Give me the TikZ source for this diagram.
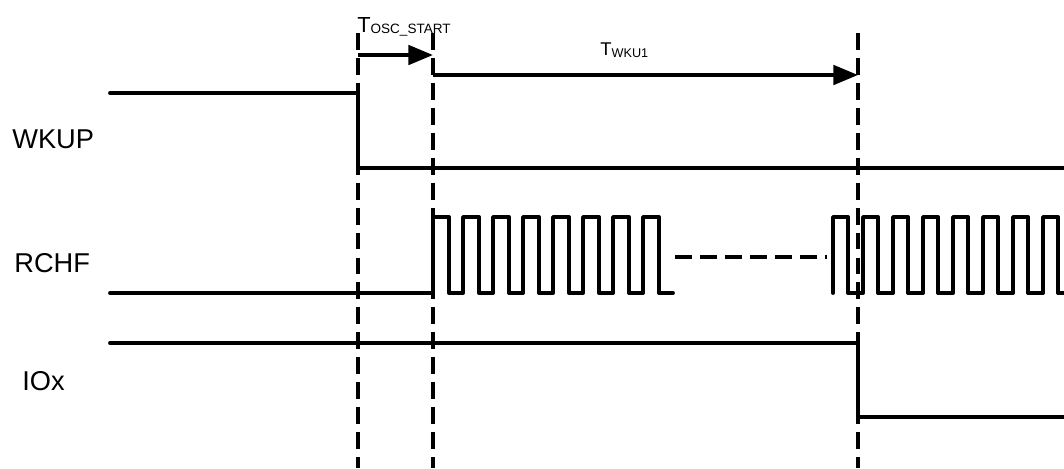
\documentclass[tikz,border=0pt]{standalone}
\usepackage{fontspec}
\setmainfont{Liberation Sans}
\usetikzlibrary{arrows.meta}

\begin{document}
\begin{tikzpicture}[
        x=0.02cm, y=-0.02cm, % 1 единица = 1 пиксель, ось y вниз
        signal/.style = {draw, line width=2.2pt, line join=round, line cap=round}, % Линии сигналов
        shtrih/.style = {draw, line width=2.2pt, dash pattern=on 9.6pt off 4.6pt},
        strelka/.style = {draw, line width=2.2pt, -{Triangle[length=14pt, width=11pt]}},
        metka/.style = {anchor=base west, inner sep=0pt, font=\fontsize{15.5}{18}\selectfont}, % Подписи
        vremya/.style = {anchor=base west, inner sep=0pt},
    ]
    \useasboundingbox (0,0) rectangle (1064,468);

    \node[metka] (wkup) at (12,148) {WKUP};
    \node[metka] (rchf) at (14,272) {RCHF};
    \node[metka] (iox) at (22,390) {IOx};

    % Пунктирные отметки времени
    \foreach \n/\x in {a/358, b/433, c/858} {
        \coordinate (\n top) at (\x,33);
        \coordinate (\n bot) at (\x,468);
        \draw[shtrih] (\n top) -- (\n bot);
    }

    \draw[signal] (110,93) -- (358,93) -- (358,168) -- (1064,168);
    \draw[signal] (110,293) -- (433,293)
        \foreach \k in {0,...,7} { -- ++(0,-76) -- ++(16,0) -- ++(0,76) -- ++(14,0) };
    \draw[shtrih] (675,257) -- (827,257);
    \draw[signal] (833,293)
        \foreach \k in {0,...,6} { -- ++(0,-76) -- ++(15,0) -- ++(0,76) -- ++(15,0) }
        -- ++(0,-76) -- ++(15,0) -- ++(0,76) -- (1064,293);
    \draw[signal] (110,343) -- (858,343) -- (858,417) -- (1064,417);

    % Интервалы
    \coordinate (osc1) at (358,55);
    \coordinate (osc2) at (433,55);
    \coordinate (wku1) at (433,75);
    \coordinate (wku2) at (858,75);
    \draw[strelka] (osc1) -- (osc2);
    \draw[strelka] (wku1) -- (wku2);

    \node[vremya, font=\fontsize{12.4}{14}\selectfont] (tosc) at (357,32)
        {T\raisebox{-1pt}{\fontsize{7.7}{9}\selectfont OSC\_START}};
    \node[vremya, font=\fontsize{10.5}{12}\selectfont] (twku) at (600,55)
        {T\raisebox{-1.5pt}{\fontsize{7.2}{9}\selectfont WKU1}};

\end{tikzpicture}
\end{document}
